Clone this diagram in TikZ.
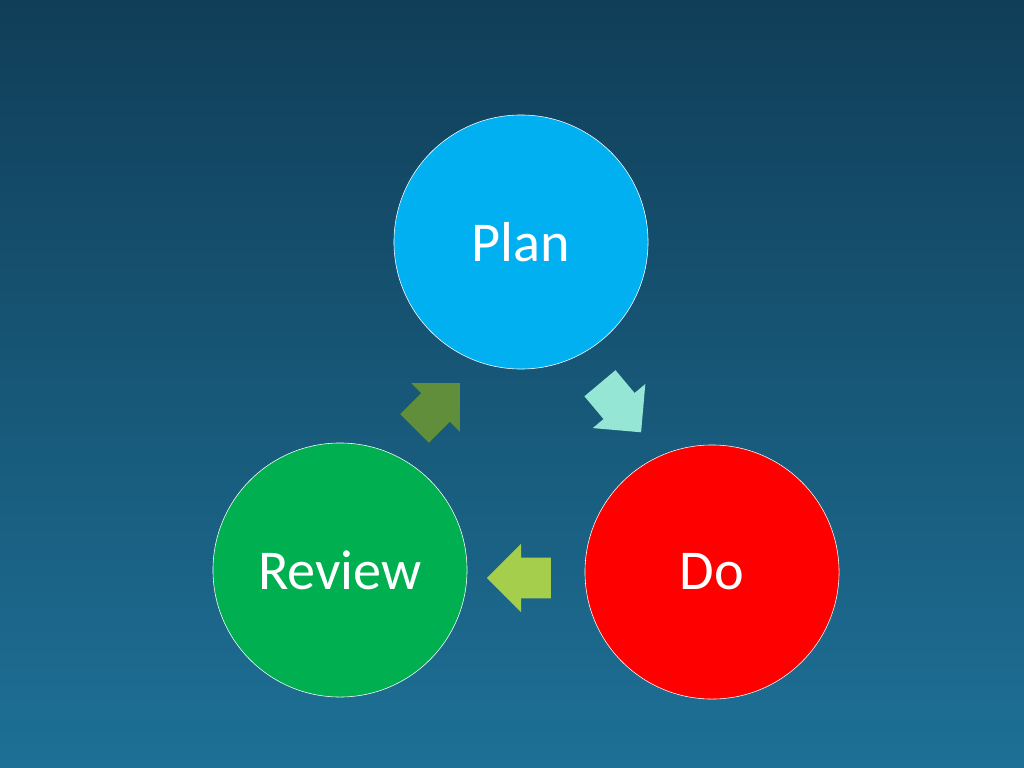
\documentclass[tikz,border=0pt]{standalone}
\usepackage{fontspec}
\setmainfont{Carlito}
\usetikzlibrary{shapes.arrows, positioning}
\definecolor{bgtop}{RGB}{16,62,88}
\definecolor{bgbot}{RGB}{30,112,150}
\definecolor{plancol}{RGB}{0,176,240}
\definecolor{docol}{RGB}{255,0,0}
\definecolor{reviewcol}{RGB}{0,176,80}
\definecolor{arrowa}{RGB}{150,230,214}
\definecolor{arrowb}{RGB}{165,206,76}
\definecolor{arrowc}{RGB}{96,142,58}
\tikzset{
  stage/.style = {circle, draw=white, thin, minimum size=6.35cm, text=white, font=\fontsize{40}{44}\selectfont},
  turn/.style = {single arrow, inner xsep=0pt, inner ysep=0.5cm, single arrow head extend=0.35cm, minimum height=1.6cm, single arrow head indent=0cm}
}
\begin{document}
\begin{tikzpicture}[x=0.025cm, y=-0.025cm]
	\shade[top color=bgtop, bottom color=bgbot] (0,0) rectangle (1024,768);
	\useasboundingbox (0,0) rectangle (1024,768);
	\node (Plan) [stage, fill=plancol] at (521,242) {Plan};
	\node (Do) [stage, fill=docol] at (712,572) {Do};
	\node (Review) [stage, fill=reviewcol] at (340,570) {Review};
	\node (PlanToDo) [turn, fill=arrowa, rotate=-50] at (614,400) {};
	\node (DoToReview) [turn, fill=arrowb, rotate=180] at (529,578) {};
	\node (ReviewToPlan) [turn, fill=arrowc, rotate=45] at (430,413) {};
\end{tikzpicture}
\end{document}
